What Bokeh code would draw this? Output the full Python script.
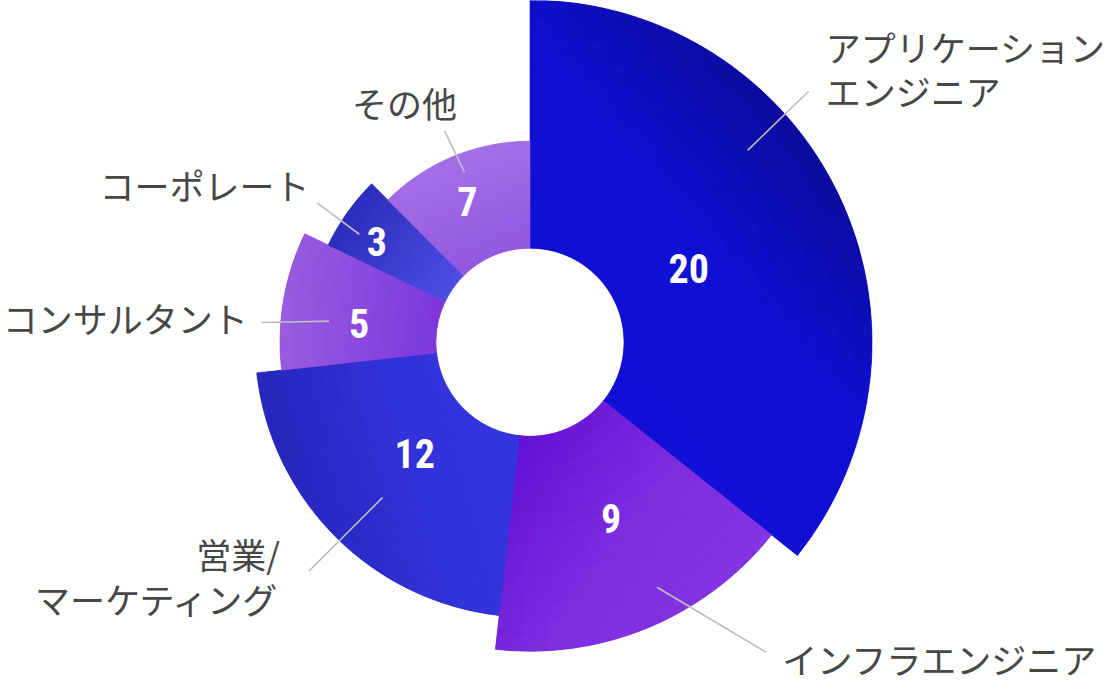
import math
import numpy as np
from bokeh.plotting import figure
from bokeh.models import ColumnDataSource, Range1d
from bokeh.core.properties import value
from bokeh.embed import file_html
from bokeh.resources import INLINE

# ---------------- data ----------------
categories = ["アプリケーション\nエンジニア", "インフラエンジニア", "営業/\nマーケティング",
              "コンサルタント", "コーポレート", "その他"]
counts = [20, 9, 12, 5, 3, 7]

# ---------------- styling / layout ----------------
CX, CY = 529.5, -341.7          # chart centre (canvas coordinates, y up)
HOLE = 94                        # inner radius
ring_radius = [342, 309, 275, 250, 224, 201]   # outer radius of each slice
grad_dir = [50, 125, 255, 275, 305, 340]        # gradient direction (deg clockwise from top)
grad_stops = [
    [(0.0, "#1010D6"), (0.55, "#1010D4"), (1.0, "#0B0B9C")],
    [(0.0, "#6410D4"), (0.55, "#7E2EE0"), (1.0, "#8434E2")],
    [(0.0, "#3636E0"), (0.45, "#3232DA"), (1.0, "#2626BC")],
    [(0.0, "#7C36DC"), (1.0, "#9A5CE0")],
    [(0.0, "#4E4EE4"), (1.0, "#2C2CBC")],
    [(0.0, "#9256E0"), (1.0, "#A470E6")],
]
base_colors = ["#1010D0", "#7424DC", "#3030D6", "#8842DC", "#4040D4", "#9C64E2"]
# number label polar position (deg clockwise from top, radius)
num_pos = [(65.1, 175), (155.3, 194), (226.1, 160), (276.4, 172), (303.2, 183), (336.0, 154)]
# leader lines: (angle0, r0, angle1, r1)
leaders = [(48.6, 290, 48.0, 375), (152.6, 276, 142.7, 390), (223.5, 214, 224.0, 318),
           (276.0, 202, 274.2, 269), (302.3, 202, 303.2, 254), (338.9, 182, 338.0, 228)]
# label offset from leader end (px, screen: +x right, +y down) and alignment
label_off = [(17, -23), (16, 6), (-29, 5), (-14, -4.5), (-8, -19), (-40, -28)]
label_align = ["left", "left", "right", "right", "right", "center"]


def polar(theta_deg, r):
    t = math.radians(theta_deg)
    return CX + r * math.sin(t), CY + r * math.cos(t)


def hex2rgb(h):
    h = h.lstrip("#")
    return [int(h[i:i + 2], 16) for i in (0, 2, 4)]


def interp(stops, t):
    t = min(max(t, 0.0), 1.0)
    for (t0, c0), (t1, c1) in zip(stops[:-1], stops[1:]):
        if t <= t1:
            f = 0 if t1 == t0 else (t - t0) / (t1 - t0)
            a, b = hex2rgb(c0), hex2rgb(c1)
            return "#%02x%02x%02x" % tuple(int(round(a[k] + (b[k] - a[k]) * f)) for k in range(3))
    return stops[-1][1]


total = sum(counts)
starts, ends = [], []
cum = 0
for v in counts:
    starts.append(360.0 * cum / total)
    cum += v
    ends.append(360.0 * cum / total)

p = figure(width=1104, height=684, output_backend="svg", toolbar_location=None,
           x_range=Range1d(0, 1104), y_range=Range1d(-684, 0),
           x_axis_type=None, y_axis_type=None, min_border=0)
p.outline_line_color = None
p.background_fill_color = "white"
p.border_fill_color = "white"

# base slices
base = ColumnDataSource(dict(
    x=[CX] * len(counts), y=[CY] * len(counts), ir=[HOLE] * len(counts), orr=ring_radius,
    sa=[math.radians(90 - e) for e in ends], ea=[math.radians(90 - s) for s in starts],
    color=base_colors, cat=categories, count=counts))
p.annular_wedge(x="x", y="y", inner_radius="ir", outer_radius="orr", start_angle="sa",
                end_angle="ea", direction="anticlock", fill_color="color", line_color=None,
                source=base)

# gradient cells
cells = dict(x=[], y=[], ir=[], orr=[], sa=[], ea=[], color=[])
for i, v in enumerate(counts):
    th0, th1, R = starts[i], ends[i], ring_radius[i]
    d = math.radians(grad_dir[i])
    ux, uy = math.sin(d), math.cos(d)
    projs = []
    for tt in np.linspace(th0, th1, 40):
        for rr in (HOLE, R):
            a = math.radians(tt)
            projs.append(rr * math.sin(a) * ux + rr * math.cos(a) * uy)
    pmin, pmax = min(projs), max(projs)
    nr = 14
    na = max(2, int(math.ceil((th1 - th0) / 2.5)))
    redges = np.linspace(HOLE, R, nr + 1)
    tedges = np.linspace(th0, th1, na + 1)
    for a in range(na):
        for b in range(nr):
            tm = math.radians((tedges[a] + tedges[a + 1]) / 2)
            rm = (redges[b] + redges[b + 1]) / 2
            pr = rm * math.sin(tm) * ux + rm * math.cos(tm) * uy
            col = interp(grad_stops[i], (pr - pmin) / (pmax - pmin))
            cells["x"].append(CX)
            cells["y"].append(CY)
            cells["ir"].append(redges[b])
            cells["orr"].append(redges[b + 1])
            cells["sa"].append(math.radians(90 - tedges[a + 1]))
            cells["ea"].append(math.radians(90 - tedges[a]))
            cells["color"].append(col)
p.annular_wedge(x="x", y="y", inner_radius="ir", outer_radius="orr", start_angle="sa",
                end_angle="ea", direction="anticlock", fill_color="color", line_color="color",
                line_width=0.6, source=ColumnDataSource(cells))

# leader lines
lx0, ly0, lx1, ly1 = [], [], [], []
for a0, r0, a1, r1 in leaders:
    x0, y0 = polar(a0, r0)
    x1, y1 = polar(a1, r1)
    lx0.append(x0); ly0.append(y0); lx1.append(x1); ly1.append(y1)
p.segment(x0=lx0, y0=ly0, x1=lx1, y1=ly1, line_color="#BDBDBD", line_width=1.6)

# value labels
nx, ny = [], []
for ang, r in num_pos:
    x, y = polar(ang, r)
    nx.append(x); ny.append(y)
p.text(x=nx, y=ny, text=[str(c) for c in counts],
       text_font=value("Roboto Condensed, Liberation Sans Narrow, DejaVu Sans Condensed, sans-serif"),
       text_font_size="40px", text_font_style="bold", text_color="white",
       text_align="center", text_baseline="middle")

# category labels
tx, ty = [], []
for (ox, oy), x1, y1 in zip(label_off, lx1, ly1):
    tx.append(x1 + ox); ty.append(y1 - oy)
p.text(x=tx, y=ty, text=categories, text_align=label_align,
       text_font=value("Noto Sans CJK JP"), text_font_size="35px",
       text_color="#474747", text_baseline="middle", text_line_height=0.87)

open("out.html", "w").write(file_html(p, INLINE))
